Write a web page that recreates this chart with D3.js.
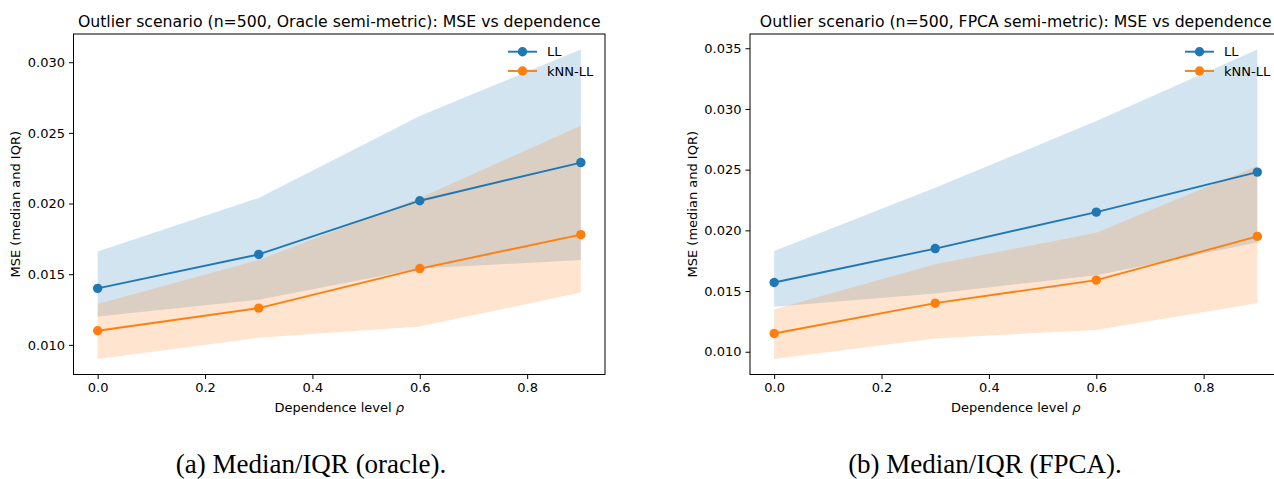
<!DOCTYPE html>
<html lang="en">
<head>
<meta charset="utf-8">
<title>MSE vs dependence</title>
<script src="https://d3js.org/d3.v7.min.js"></script>
<style>
  body { margin: 0; background: #fff; }
  text { font-family: "DejaVu Sans", sans-serif; fill: #000; }
  .caption { font-family: "Liberation Serif", "Times New Roman", serif; }
</style>
</head>
<body>
<script>
// data
var rho = [0, 0.3, 0.6, 0.9];
var xTicks = [0, 0.2, 0.4, 0.6, 0.8];

// (a) oracle semi-metric
var llMedOracle  = [0.0140, 0.0164, 0.0202, 0.0229];
var llQ1Oracle   = [0.0120, 0.0132, 0.0154, 0.0160];
var llQ3Oracle   = [0.0166, 0.0204, 0.0262, 0.0309];
var knnMedOracle = [0.0110, 0.0126, 0.0154, 0.0178];
var knnQ1Oracle  = [0.0090, 0.0105, 0.0113, 0.0137];
var knnQ3Oracle  = [0.0129, 0.0160, 0.0204, 0.0255];
var yTicksOracle = [0.010, 0.015, 0.020, 0.025, 0.030];

// (b) FPCA semi-metric
var llMedFpca  = [0.0157, 0.0185, 0.0215, 0.0248];
var llQ1Fpca   = [0.0137, 0.0148, 0.0163, 0.0190];
var llQ3Fpca   = [0.0183, 0.0235, 0.0290, 0.0349];
var knnMedFpca = [0.0115, 0.0140, 0.0159, 0.0195];
var knnQ1Fpca  = [0.0094, 0.0111, 0.0118, 0.0140];
var knnQ3Fpca  = [0.0135, 0.0172, 0.0198, 0.0253];
var yTicksFpca = [0.010, 0.015, 0.020, 0.025, 0.030, 0.035];

var blue = "#1f77b4", orange = "#ff7f0e";

var W = 1274, H = 479;
var svg = d3.select("body").append("svg")
	.attr("width", W)
	.attr("height", H);

function panel(opt) {
	var x0 = opt.left, x1 = opt.left + 531.5, y0 = 34, y1 = 374.5;
	var g = svg.append("g");

	var xScale = d3.scaleLinear().domain([-0.045, 0.945]).range([x0, x1]);
	var all = opt.series.flatMap(s => s.q1.concat(s.q3));
	var ext = d3.extent(all), pad = (ext[1] - ext[0]) * 0.05;
	var yScale = d3.scaleLinear().domain([ext[0] - pad, ext[1] + pad]).range([y1, y0]);

	// IQR bands
	opt.series.forEach(s => {
		var area = d3.area()
			.x((d, i) => xScale(rho[i]))
			.y0((d, i) => yScale(s.q1[i]))
			.y1((d, i) => yScale(s.q3[i]));
		g.append("path")
			.datum(s.med)
			.attr("d", area)
			.attr("fill", s.color)
			.attr("fill-opacity", 0.2);
	});

	// median lines + markers
	opt.series.forEach(s => {
		var line = d3.line()
			.x((d, i) => xScale(rho[i]))
			.y(d => yScale(d));
		g.append("path")
			.datum(s.med)
			.attr("d", line)
			.attr("fill", "none")
			.attr("stroke", s.color)
			.attr("stroke-width", 1.9);
		g.selectAll(null)
			.data(s.med)
			.enter()
			.append("circle")
			.attr("cx", (d, i) => xScale(rho[i]))
			.attr("cy", d => yScale(d))
			.attr("r", 4.7)
			.attr("fill", s.color);
	});

	// axes
	var xAxis = g.append("g")
		.attr("transform", "translate(0," + y1 + ")")
		.call(d3.axisBottom(xScale).tickValues(xTicks).tickFormat(d3.format(".1f")).tickSize(4.5).tickSizeOuter(0).tickPadding(4));
	var yAxis = g.append("g")
		.attr("transform", "translate(" + x0 + ",0)")
		.call(d3.axisLeft(yScale).tickValues(opt.yTicks).tickFormat(d3.format(".3f")).tickSize(4.5).tickSizeOuter(0).tickPadding(4));
	[xAxis, yAxis].forEach(a => {
		a.select(".domain").remove();
		a.selectAll("text").style("font-family", "DejaVu Sans").style("font-size", "13px").attr("fill", "#000");
		a.selectAll("line").attr("stroke", "#000").attr("stroke-width", 1);
	});

	// spines
	g.append("rect")
		.attr("x", x0).attr("y", y0)
		.attr("width", x1 - x0).attr("height", y1 - y0)
		.attr("fill", "none")
		.attr("stroke", "#000")
		.attr("stroke-width", 1);

	// title + labels
	var cx = (x0 + x1) / 2;
	g.append("text")
		.attr("x", cx).attr("y", 27)
		.attr("text-anchor", "middle")
		.style("font-size", "15.7px")
		.text(opt.title);
	var xl = g.append("text")
		.attr("x", cx).attr("y", 412)
		.attr("text-anchor", "middle")
		.style("font-size", "13px")
		.text("Dependence level ");
	xl.append("tspan").style("font-style", "italic").text("ρ");
	g.append("text")
		.attr("transform", "translate(" + (x0 - 53.5) + "," + ((y0 + y1) / 2) + ") rotate(-90)")
		.attr("text-anchor", "middle")
		.style("font-size", "13px")
		.text("MSE (median and IQR)");

	// legend, no frame
	var lx = opt.legendX;
	opt.series.forEach((s, i) => {
		var ly = 51.7 + i * 19.3;
		g.append("line")
			.attr("x1", lx).attr("x2", lx + 29)
			.attr("y1", ly).attr("y2", ly)
			.attr("stroke", s.color).attr("stroke-width", 1.9);
		g.append("circle")
			.attr("cx", lx + 14.5).attr("cy", ly).attr("r", 4.7)
			.attr("fill", s.color);
		g.append("text")
			.attr("x", lx + 39).attr("y", ly)
			.attr("dy", "0.35em")
			.style("font-size", "13px")
			.text(s.name);
	});

	// caption
	svg.append("text")
		.attr("class", "caption")
		.attr("x", opt.captionX).attr("y", 472.5)
		.attr("text-anchor", "middle")
		.style("font-size", "27px")
		.text(opt.caption);
}

panel({
	left: 73.5,
	title: "Outlier scenario (n=500, Oracle semi-metric): MSE vs dependence",
	yTicks: yTicksOracle,
	legendX: 508,
	captionX: 311,
	caption: "(a) Median/IQR (oracle).",
	series: [
		{name: "LL", color: blue, med: llMedOracle, q1: llQ1Oracle, q3: llQ3Oracle},
		{name: "kNN-LL", color: orange, med: knnMedOracle, q1: knnQ1Oracle, q3: knnQ3Oracle}
	]
});

panel({
	left: 750,
	title: "Outlier scenario (n=500, FPCA semi-metric): MSE vs dependence",
	yTicks: yTicksFpca,
	legendX: 1185,
	captionX: 985,
	caption: "(b) Median/IQR (FPCA).",
	series: [
		{name: "LL", color: blue, med: llMedFpca, q1: llQ1Fpca, q3: llQ3Fpca},
		{name: "kNN-LL", color: orange, med: knnMedFpca, q1: knnQ1Fpca, q3: knnQ3Fpca}
	]
});
</script>
</body>
</html>
